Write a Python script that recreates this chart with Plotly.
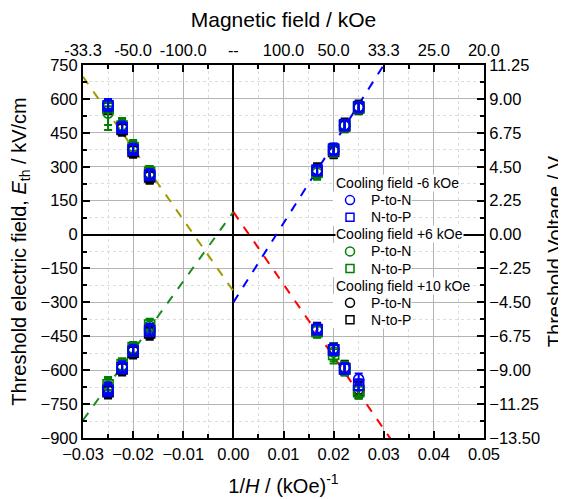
import plotly.graph_objects as go

# ---------------- data ----------------
invH = [-0.025, -0.0222, -0.02, -0.0167, 0.0167, 0.02, 0.0222, 0.025]
invH_all = invH + invH  # positive-E branch then negative-E branch

# E values (kV/cm): [upper branch 8 pts] + [lower branch 8 pts], x order = invH
m6_PtoN = [575, 478, 380, 268, 282, 375, 482, 562,
           -680, -585, -510, -420, -415, -505, -590, -640]
m6_NtoP = [570, 472, 375, 262, 285, 378, 485, 565,
           -690, -590, -515, -425, -420, -510, -595, -665]
p6_PtoN = [537, 485, 390, 270, 272, 372, 480, 560,
           -670, -580, -505, -405, -425, -520, -590, -690]
p6_NtoP = [560, 480, 385, 275, 276, 374, 482, 562,
           -665, -575, -500, -400, -430, -530, -595, -695]
p10_PtoN = [565, 470, 372, 258, 285, 370, 485, 565,
            -690, -590, -515, -430, -420, -505, -588, -685]
p10_NtoP = [560, 465, 368, 255, 280, 368, 480, 560,
            -695, -595, -520, -435, -425, -510, -592, -690]

# error bars (kV/cm): upper / lower
m6_err_up = [25, 22, 22, 22, 22, 25, 22, 22, 25, 25, 22, 25, 22, 22, 22, 25]
m6_err_dn = m6_err_up
p6_err_up = [30, 30, 28, 28, 30, 28, 25, 25, 35, 28, 25, 28, 25, 40, 28, 30]
p6_err_dn = [75, 30, 28, 28, 30, 28, 25, 25, 35, 28, 25, 28, 25, 40, 28, 30]
p10_err_up = [28, 28, 28, 30, 30, 30, 28, 28, 30, 28, 28, 30, 30, 25, 30, 35]
p10_err_dn = p10_err_up

# linear fits E = a + b * (1/H)
fit_olive = (-250, -31600)
fit_green = (100, 30700)
fit_blue = (-300, 35000)
fit_red = (100, -32000)
fit_x_left = [-0.03, 0.0]
fit_x_right = [0.0, 0.035]

top_tickvals = [-0.03, -0.02, -0.01, 0.0, 0.01, 0.02, 0.03, 0.04, 0.05]
top_ticktext = ["-33.3", "-50.0", "-100.0", "--", "100.0", "50.0", "33.3", "25.0", "20.0"]

E_range = [-900, 750]
V_per_E = 11.25 / 750  # V per kV/cm

FONT = "Arial, Liberation Sans, sans-serif"
BODY = 8  # default page body margin
W, H = 566 - BODY, 499 - BODY
ML, MR, MT, MB = 83 - BODY, 82, 65 - BODY, 61

fig = go.Figure()

def fitline(x, p, color):
    a, b = p
    fig.add_trace(go.Scatter(x=x, y=[a + b * xx for xx in x], mode="lines",
                             line=dict(color=color, width=2, dash="dash"),
                             showlegend=False, hoverinfo="skip"))

fitline(fit_x_left, fit_olive, "#9c9c00")
fitline(fit_x_left, fit_green, "#1c8c1c")
fitline(fit_x_right, fit_blue, "#0000ff")
fitline(fit_x_right, fit_red, "#ff0000")

series = [
    ("Cooling field -6 kOe", "#0000ff", m6_PtoN, m6_NtoP, m6_err_up, m6_err_dn),
    ("Cooling field +6 kOe", "#008000", p6_PtoN, p6_NtoP, p6_err_up, p6_err_dn),
    ("Cooling field +10 kOe", "#000000", p10_PtoN, p10_NtoP, p10_err_up, p10_err_dn),
]

draw_order = [2, 1, 0]  # black, green, then blue on top
for i in draw_order:
    title, color, ptn, ntp, eu, ed = series[i]
    for name, vals, sym in [("P-to-N", ptn, "circle-open"), ("N-to-P", ntp, "square-open")]:
        fig.add_trace(go.Scatter(
            x=invH_all, y=vals, mode="markers", name=f"{title} {name}", showlegend=False,
            marker=dict(symbol=sym, size=10, color=color, line=dict(width=1.6, color=color)),
            error_y=dict(type="data", symmetric=False, array=eu, arrayminus=ed,
                         color=color, thickness=2, width=4),
        ))

# invisible traces to activate secondary axes
fig.add_trace(go.Scatter(x=[None], y=[None], xaxis="x2", yaxis="y", showlegend=False))
fig.add_trace(go.Scatter(x=[None], y=[None], xaxis="x", yaxis="y2", showlegend=False))

# ---- legend (compact Origin-style spacing): text + pixel-sized symbol shapes ----
pw, ph = W - ML - MR, H - MT - MB
def px2paper(xp, yp):  # page pixel -> paper coords
    return (xp - BODY - ML) / pw, (BODY + H - MB - yp) / ph

annotations, shapes = [], []
row_y0, row_dy = 183, 17.1
row = 0
for title, color, *_ in series:
    x, y = px2paper(335, row_y0 + row * row_dy)
    annotations.append(dict(x=x, y=y, xref="paper", yref="paper", text=title, showarrow=False,
                            xanchor="left", yanchor="middle", bgcolor="white", borderpad=0,
                            font=dict(size=14, color="black")))
    row += 1
    for name, shp in [("P-to-N", "circle"), ("N-to-P", "rect")]:
        yy = row_y0 + row * row_dy
        xs, ys = px2paper(350, yy)
        shapes.append(dict(type="rect", xref="paper", yref="paper", xsizemode="pixel", ysizemode="pixel",
                           xanchor=xs, yanchor=ys, x0=-17, x1=21, y0=-8.5, y1=8.5,
                           line=dict(width=0), fillcolor="white"))
        r = 4.5 if shp == "circle" else 4
        shapes.append(dict(type=shp, xref="paper", yref="paper", xsizemode="pixel", ysizemode="pixel",
                           xanchor=xs, yanchor=ys, x0=-r, x1=r, y0=-r, y1=r,
                           line=dict(color=color, width=1.5), fillcolor="rgba(0,0,0,0)"))
        xt, yt = px2paper(370, yy)
        annotations.append(dict(x=xt, y=yt, xref="paper", yref="paper", text=name, showarrow=False,
                                xanchor="left", yanchor="middle", bgcolor="white", borderpad=0,
                                font=dict(size=14, color="black")))
        row += 1

axis_common = dict(showline=True, linecolor="black", linewidth=2, automargin=False,
                   ticks="inside", ticklen=7, tickwidth=2, tickcolor="black",
                   tickfont=dict(size=16.5, color="black", family=FONT))

fig.update_layout(
    width=W, height=H,
    margin=dict(l=ML, r=MR, t=MT, b=MB),
    paper_bgcolor="white", plot_bgcolor="white",
    font=dict(family=FONT, color="black"),
    showlegend=False,
    annotations=annotations,
    shapes=shapes,
    xaxis=dict(range=[-0.03, 0.05], dtick=0.01, tick0=0, tickformat=".2f",
               showgrid=True, gridcolor="#b4b4b4", gridwidth=1,
               zeroline=True, zerolinecolor="black", zerolinewidth=2,
               minor=dict(dtick=0.005, ticks="inside", ticklen=4, tickwidth=1.5, tickcolor="black",
                          showgrid=True, gridcolor="#dcdcdc", griddash="dot"),
               title=dict(text="1/<i>H</i> / (kOe)<sup>-1</sup>", font=dict(size=20), standoff=17),
               **axis_common),
    xaxis2=dict(overlaying="x", side="top", range=[-0.03, 0.05], tickmode="array",
                tickvals=top_tickvals, ticktext=top_ticktext, showgrid=False, zeroline=False,
                minor=dict(dtick=0.005, ticks="inside", ticklen=4, tickwidth=1.5, tickcolor="black"),
                title=dict(text="Magnetic field / kOe", font=dict(size=21), standoff=12),
                **axis_common),
    yaxis=dict(range=E_range, dtick=150, tick0=0,
               showgrid=True, gridcolor="#b4b4b4", gridwidth=1,
               zeroline=True, zerolinecolor="black", zerolinewidth=2,
               minor=dict(dtick=75, ticks="inside", ticklen=4, tickwidth=1.5, tickcolor="black",
                          showgrid=True, gridcolor="#dcdcdc", griddash="dot"),
               title=dict(text="Threshold electric field, <i>E</i><sub>th</sub> / kV/cm",
                          font=dict(size=20), standoff=10),
               **axis_common),
    yaxis2=dict(overlaying="y", side="right", range=[E_range[0] * V_per_E, E_range[1] * V_per_E],
                dtick=2.25, tick0=0, tickformat=".2f", showgrid=False, zeroline=False,
                minor=dict(dtick=1.125, ticks="inside", ticklen=4, tickwidth=1.5, tickcolor="black"),
                title=dict(text="Threshold Voltage / V", font=dict(size=20), standoff=10),
                **axis_common),
)

fig.write_html("out.html")
